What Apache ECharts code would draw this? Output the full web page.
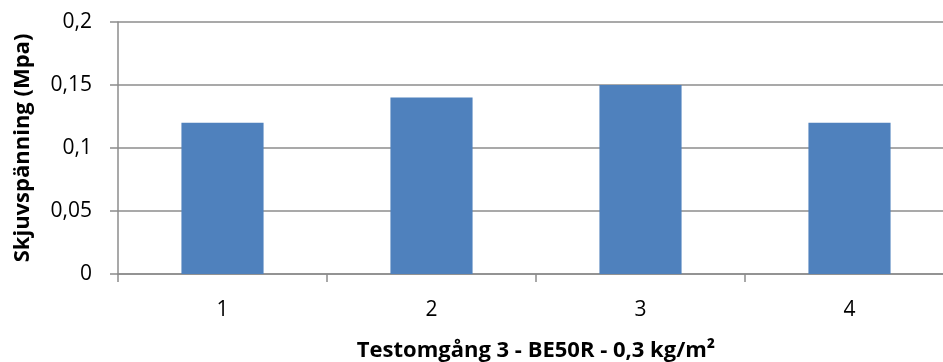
<!DOCTYPE html>
<html>
<head>
<meta charset="utf-8">
<script src="https://cdn.jsdelivr.net/npm/echarts@6/dist/echarts.min.js"></script>
<style>
  html, body { margin: 0; padding: 0; background: #fff; overflow: hidden; }
  #chart { width: 943px; height: 362px; }
</style>
</head>
<body>
<div id="chart"></div>
<script>
// Shear stress per test run
const categories = ['1', '2', '3', '4'];
const shearValues = [0.12, 0.14, 0.15, 0.12];
const yTicks = { min: 0, max: 0.2, interval: 0.05 };

const xTitle = 'Testomgång 3 - BE50R - 0,3 kg/m²';
const yTitle = 'Skjuvspänning (Mpa)';

const font = '"Open Sans", "Liberation Sans", sans-serif';
const gridColor = '#8c8c8c';

const chart = echarts.init(document.getElementById('chart'), null, { renderer: 'canvas' });
chart.setOption({
  animation: false,
  // the plot area runs slightly past the right edge of the canvas
  grid: {
    left: 118, top: 22, width: 836, height: 252,
    containLabel: false, outerBoundsMode: 'none'
  },
  xAxis: {
    type: 'category',
    data: categories,
    name: xTitle,
    nameLocation: 'middle',
    nameGap: 66,
    nameTextStyle: { fontFamily: font, fontSize: 22, fontWeight: 'bold', color: '#000' },
    axisLine: { lineStyle: { color: gridColor, width: 1.5 } },
    axisTick: { show: true, length: 8, alignWithLabel: false, lineStyle: { color: gridColor, width: 1.5 } },
    axisLabel: { fontFamily: font, fontSize: 21, color: '#000', margin: 26 },
    splitLine: { show: false }
  },
  yAxis: {
    type: 'value',
    min: yTicks.min,
    max: yTicks.max,
    interval: yTicks.interval,
    name: yTitle,
    nameLocation: 'middle',
    nameGap: 84,
    nameRotate: 90,
    nameTextStyle: { fontFamily: font, fontSize: 22, fontWeight: 'bold', color: '#000' },
    axisLine: { show: true, lineStyle: { color: gridColor, width: 1.5 } },
    axisTick: { show: true, length: 8, lineStyle: { color: gridColor, width: 1.5 } },
    axisLabel: {
      fontFamily: font, fontSize: 21, color: '#000', margin: 26,
      formatter: v => String(+v.toFixed(2)).replace('.', ',')
    },
    splitLine: { show: true, lineStyle: { color: gridColor, width: 1.5 } }
  },
  series: [{
    type: 'bar',
    data: shearValues,
    barWidth: '39.3%',
    itemStyle: { color: '#4F81BD' }
  }]
});
</script>
</body>
</html>
